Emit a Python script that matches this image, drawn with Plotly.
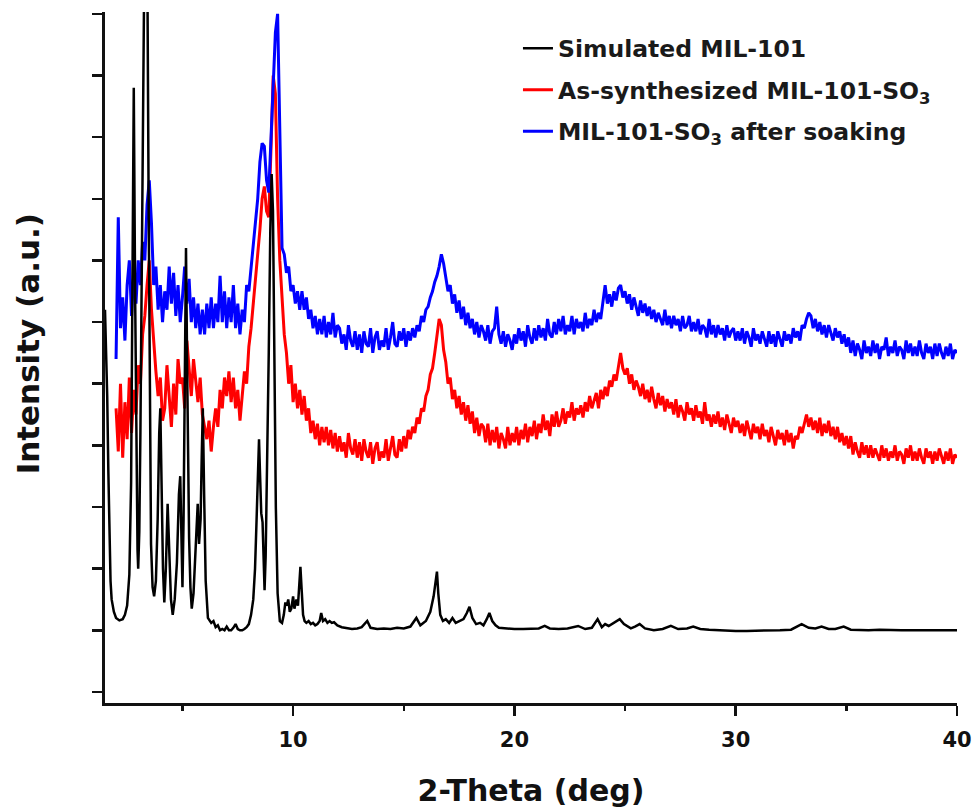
import plotly.graph_objects as go

# ---------------- data ----------------
SERIES_NAMES = [
    "Simulated MIL-101",
    "As-synthesized MIL-101-SO<sub>3</sub>",
    "MIL-101-SO<sub>3</sub> after soaking",
]
X_TITLE = "2-Theta (deg)"
Y_TITLE = "Intensity (a.u.)"
X_TICKS = [10, 20, 30, 40]

# simulated pattern (2-theta, intensity)
SIM_THETA = [
    1.5, 1.6, 1.65, 1.7, 1.75, 1.8, 1.9, 2.0, 2.15, 2.3,
    2.4, 2.5, 2.6, 2.68, 2.74, 2.8, 2.86, 2.92, 2.97, 3.0,
    3.05, 3.1, 3.16, 3.22, 3.27, 3.35, 3.42, 3.47, 3.52, 3.58,
    3.65, 3.72, 3.8, 3.88, 3.95, 4.0, 4.06, 4.12, 4.18, 4.25,
    4.33, 4.4, 4.48, 4.56, 4.65, 4.75, 4.84, 4.9, 4.95, 5.0,
    5.05, 5.1, 5.16, 5.22, 5.3, 5.36, 5.42, 5.5, 5.6, 5.69,
    5.75, 5.82, 5.87, 5.92, 5.98, 6.05, 6.15, 6.3, 6.4, 6.5,
    6.6, 6.7, 6.8, 6.9, 7.0, 7.1, 7.2, 7.3, 7.4, 7.5,
    7.6, 7.7, 7.8, 7.9, 8.0, 8.1, 8.2, 8.28, 8.35, 8.42,
    8.46, 8.5, 8.56, 8.62, 8.67, 8.71, 8.76, 8.82, 8.9, 8.97,
    9.03, 9.09, 9.15, 9.22, 9.3, 9.4, 9.5, 9.58, 9.65, 9.72,
    9.78, 9.85, 9.92, 10.0, 10.06, 10.15, 10.22, 10.28, 10.33, 10.38,
    10.45, 10.52, 10.6, 10.7, 10.8, 10.9, 11.0, 11.1, 11.2, 11.27,
    11.35, 11.45, 11.55, 11.65, 11.75, 11.85, 12.0, 12.2, 12.4, 12.66,
    12.9, 13.1, 13.35, 13.5, 13.8, 14.1, 14.4, 14.7, 15.0, 15.3,
    15.57, 15.75, 16.0, 16.2, 16.35, 16.45, 16.5, 16.56, 16.65, 16.77,
    16.9, 17.05, 17.2, 17.35, 17.5, 17.7, 17.85, 17.97, 18.1, 18.27,
    18.45, 18.6, 18.75, 18.87, 19.0, 19.15, 19.3, 19.6, 20.0, 20.4,
    20.8, 21.1, 21.37, 21.6, 22.0, 22.4, 22.88, 23.2, 23.5, 23.76,
    23.95, 24.1, 24.26, 24.5, 24.76, 24.95, 25.26, 25.45, 25.66, 25.9,
    26.3, 26.7, 27.07, 27.4, 27.8, 28.08, 28.4, 28.8, 29.2, 29.6,
    30.0, 30.5, 31.0, 31.5, 32.0, 32.5, 32.98, 33.3, 33.6, 33.88,
    34.2, 34.5, 34.88, 35.2, 35.6, 36.0, 36.5, 37.0, 37.5, 38.0,
    38.5, 39.0, 39.5, 40.0,
]
SIM_INT = [
    6.2, 4.8, 3.6, 2.4, 1.8, 1.5, 1.3, 1.2, 1.16, 1.18,
    1.25, 1.4, 1.9, 3.4, 6.0, 9.8, 6.5, 3.6, 2.3, 2.0,
    2.6, 4.2, 7.0, 10.0, 11.5, 11.5, 11.3, 8.0, 4.5, 2.4,
    1.7, 1.55, 1.8, 2.8, 4.2, 4.6, 3.3, 2.0, 1.45, 2.0,
    3.05, 2.2, 1.5, 1.25, 1.5, 2.1, 3.2, 3.5, 2.6, 1.7,
    2.8, 5.5, 7.2, 5.0, 2.5, 1.7, 1.35, 1.6, 2.3, 3.05,
    2.4, 2.8, 3.8, 4.6, 3.2, 1.8, 1.2, 1.12, 1.15, 1.05,
    1.08, 1.0, 1.02, 1.0, 1.06, 1.0, 1.0, 1.04, 1.1, 1.02,
    1.0, 1.0, 1.02, 1.05, 1.1, 1.25, 1.5, 2.0, 2.8, 3.9,
    4.1, 3.6, 2.9, 2.75, 2.0, 1.65, 2.2, 3.5, 5.5, 7.5,
    8.4, 7.8, 5.5, 3.0, 1.6, 1.15, 1.12, 1.25, 1.45, 1.4,
    1.5, 1.3, 1.35, 1.55, 1.35, 1.5, 1.4, 1.7, 2.03, 1.7,
    1.25, 1.15, 1.12, 1.15, 1.1, 1.12, 1.08, 1.1, 1.15, 1.28,
    1.15, 1.18, 1.12, 1.15, 1.12, 1.13, 1.08, 1.05, 1.04, 1.02,
    1.03, 1.05, 1.15, 1.04, 1.02, 1.03, 1.02, 1.04, 1.03, 1.06,
    1.2, 1.08, 1.15, 1.3, 1.55, 1.85, 1.95, 1.6, 1.25, 1.15,
    1.18, 1.12, 1.2, 1.12, 1.15, 1.18, 1.28, 1.38, 1.2, 1.1,
    1.12, 1.08, 1.18, 1.28, 1.15, 1.08, 1.04, 1.03, 1.02, 1.02,
    1.02, 1.03, 1.07, 1.03, 1.02, 1.03, 1.07, 1.02, 1.04, 1.18,
    1.05, 1.1, 1.07, 1.12, 1.18, 1.1, 1.03, 1.06, 1.1, 1.03,
    1.0, 1.02, 1.07, 1.02, 1.03, 1.06, 1.02, 1.01, 1.0, 1.0,
    0.99, 0.99, 0.99, 1.0, 1.0, 1.01, 1.1, 1.04, 1.03, 1.06,
    1.02, 1.02, 1.06, 1.01, 1.0, 1.0, 1.01, 1.0, 1.0, 1.0,
    1.0, 1.0, 1.0, 1.0,
]

# measured patterns: 2-theta grid, 0.1 deg steps from 2.0 to 40.0
THETA_LOW = [
    2.0, 2.1, 2.2, 2.3, 2.4, 2.5, 2.6, 2.7, 2.8, 2.9,
    3.0, 3.1, 3.2, 3.3, 3.4, 3.5, 3.6, 3.7, 3.8, 3.9,
    4.0, 4.1, 4.2, 4.3, 4.4, 4.5, 4.6, 4.7, 4.8, 4.9,
    5.0, 5.1, 5.2, 5.3, 5.4, 5.5, 5.6, 5.7, 5.8, 5.9,
    6.0, 6.1, 6.2, 6.3, 6.4, 6.5, 6.6, 6.7, 6.8, 6.9,
    7.0, 7.1, 7.2, 7.3, 7.4, 7.5, 7.6, 7.7, 7.8, 7.9,
    8.0, 8.1, 8.2, 8.3, 8.4, 8.5, 8.6, 8.7, 8.8, 8.9,
    9.0, 9.1, 9.2, 9.3, 9.4, 9.5, 9.6, 9.7, 9.8, 9.9,
    10.0, 10.1, 10.2, 10.3, 10.4, 10.5, 10.6, 10.7, 10.8, 10.9,
    11.0, 11.1, 11.2, 11.3, 11.4, 11.5, 11.6, 11.7, 11.8, 11.9,
    12.0,
]
THETA_HIGH = [
    12.1, 12.2, 12.3, 12.4, 12.5, 12.6, 12.7, 12.8, 12.9, 13.0,
    13.1, 13.2, 13.3, 13.4, 13.5, 13.6, 13.7, 13.8, 13.9, 14.0,
    14.1, 14.2, 14.3, 14.4, 14.5, 14.6, 14.7, 14.8, 14.9, 15.0,
    15.1, 15.2, 15.3, 15.4, 15.5, 15.6, 15.7, 15.8, 15.9, 16.0,
    16.1, 16.2, 16.3, 16.4, 16.5, 16.6, 16.7, 16.8, 16.9, 17.0,
    17.1, 17.2, 17.3, 17.4, 17.5, 17.6, 17.7, 17.8, 17.9, 18.0,
    18.1, 18.2, 18.3, 18.4, 18.5, 18.6, 18.7, 18.8, 18.9, 19.0,
    19.1, 19.2, 19.3, 19.4, 19.5, 19.6, 19.7, 19.8, 19.9, 20.0,
    20.1, 20.2, 20.3, 20.4, 20.5, 20.6, 20.7, 20.8, 20.9, 21.0,
    21.1, 21.2, 21.3, 21.4, 21.5, 21.6, 21.7, 21.8, 21.9, 22.0,
    22.1, 22.2, 22.3, 22.4, 22.5, 22.6, 22.7, 22.8, 22.9, 23.0,
    23.1, 23.2, 23.3, 23.4, 23.5, 23.6, 23.7, 23.8, 23.9, 24.0,
    24.1, 24.2, 24.3, 24.4, 24.5, 24.6, 24.7, 24.8, 24.9, 25.0,
    25.1, 25.2, 25.3, 25.4, 25.5, 25.6, 25.7, 25.8, 25.9, 26.0,
    26.1, 26.2, 26.3, 26.4, 26.5, 26.6, 26.7, 26.8, 26.9, 27.0,
    27.1, 27.2, 27.3, 27.4, 27.5, 27.6, 27.7, 27.8, 27.9, 28.0,
    28.1, 28.2, 28.3, 28.4, 28.5, 28.6, 28.7, 28.8, 28.9, 29.0,
    29.1, 29.2, 29.3, 29.4, 29.5, 29.6, 29.7, 29.8, 29.9, 30.0,
    30.1, 30.2, 30.3, 30.4, 30.5, 30.6, 30.7, 30.8, 30.9, 31.0,
    31.1, 31.2, 31.3, 31.4, 31.5, 31.6, 31.7, 31.8, 31.9, 32.0,
    32.1, 32.2, 32.3, 32.4, 32.5, 32.6, 32.7, 32.8, 32.9, 33.0,
    33.1, 33.2, 33.3, 33.4, 33.5, 33.6, 33.7, 33.8, 33.9, 34.0,
    34.1, 34.2, 34.3, 34.4, 34.5, 34.6, 34.7, 34.8, 34.9, 35.0,
    35.1, 35.2, 35.3, 35.4, 35.5, 35.6, 35.7, 35.8, 35.9, 36.0,
    36.1, 36.2, 36.3, 36.4, 36.5, 36.6, 36.7, 36.8, 36.9, 37.0,
    37.1, 37.2, 37.3, 37.4, 37.5, 37.6, 37.7, 37.8, 37.9, 38.0,
    38.1, 38.2, 38.3, 38.4, 38.5, 38.6, 38.7, 38.8, 38.9, 39.0,
    39.1, 39.2, 39.3, 39.4, 39.5, 39.6, 39.7, 39.8, 39.9, 40.0,
]

RED_LOW = [
    4.6, 3.9, 5.0, 3.8, 4.7, 4.1, 5.1, 4.2, 4.9, 4.5,
    5.3, 5.0, 5.8, 6.1, 6.6, 7.0, 6.2, 5.6, 5.2, 4.8,
    5.1, 4.4, 4.6, 5.3, 4.7, 4.3, 5.0, 4.5, 5.4, 5.0,
    5.1, 4.6, 5.7, 5.2, 4.8, 5.4, 5.0, 4.7, 5.1, 4.5,
    4.3, 4.1, 4.4, 3.9, 4.3, 4.6, 4.3, 4.9, 4.6, 5.1,
    4.8, 5.2, 4.7, 5.1, 4.6, 4.9, 4.4, 4.8, 5.2, 5.0,
    5.6, 5.9, 6.3, 6.6, 7.1, 7.5, 8.0, 8.2, 7.8, 7.7,
    8.8, 10.0, 9.7, 8.0, 7.0, 6.3, 5.8, 5.5, 5.0, 5.3,
    4.7, 5.0, 4.6, 4.9, 4.5, 4.8, 4.4, 4.6, 4.2, 4.4,
    4.1, 4.35, 4.0, 4.3, 4.05, 4.3, 4.0, 4.25, 3.95, 4.2,
    3.9,
]
RED_HIGH = [
    4.15, 3.9, 4.05, 3.8, 4.2, 3.95, 3.85, 4.1, 3.8, 4.05,
    3.75, 4.1, 3.9, 3.8, 4.05, 3.7, 3.95, 4.05, 3.75, 3.9,
    3.8, 4.1, 3.75, 3.95, 4.15, 3.85, 3.8, 4.1, 3.9, 4.15,
    3.95, 4.25, 4.1, 4.3, 4.2, 4.45, 4.35, 4.6, 4.55, 4.8,
    4.9, 5.15, 5.25, 5.5, 5.8, 6.05, 5.95, 5.55, 5.35, 5.0,
    5.1, 4.75, 4.9, 4.6, 4.8, 4.5, 4.7, 4.4, 4.65, 4.35,
    4.55, 4.2, 4.45, 4.15, 4.35, 4.3, 4.05, 4.35, 4.0, 4.25,
    4.05, 4.3, 3.95, 4.2, 4.1, 3.95, 4.3, 4.0, 4.2, 4.05,
    4.3, 4.0, 4.25, 4.1, 4.35, 4.05, 4.3, 4.15, 4.4, 4.1,
    4.35, 4.2, 4.5, 4.25, 4.4, 4.15, 4.5, 4.3, 4.55, 4.3,
    4.4, 4.6, 4.35, 4.55, 4.45, 4.7, 4.4, 4.6, 4.5, 4.65,
    4.45, 4.7, 4.55, 4.8, 4.6, 4.75, 4.85, 4.6, 4.9, 4.75,
    4.95, 4.8, 5.05, 4.95, 5.15, 5.05, 5.3, 5.5, 5.25, 5.15,
    5.25, 5.0, 5.15, 4.9, 5.05, 4.95, 4.8, 5.0, 4.75, 4.9,
    4.7, 4.95, 4.75, 4.6, 4.85, 4.65, 4.8, 4.55, 4.75, 4.6,
    4.7, 4.5, 4.75, 4.45, 4.65, 4.55, 4.4, 4.7, 4.5, 4.6,
    4.4, 4.65, 4.45, 4.55, 4.35, 4.7, 4.4, 4.5, 4.3, 4.5,
    4.35, 4.55, 4.3, 4.45, 4.25, 4.5, 4.35, 4.2, 4.45, 4.3,
    4.4, 4.2, 4.35, 4.15, 4.4, 4.25, 4.1, 4.35, 4.2, 4.3,
    4.1, 4.35, 4.15, 4.25, 4.05, 4.3, 4.15, 4.0, 4.25, 4.1,
    4.2, 4.0, 4.25, 4.05, 4.2, 3.95, 4.15, 4.1, 4.3, 4.2,
    4.35, 4.5, 4.3, 4.45, 4.25, 4.4, 4.2, 4.45, 4.15, 4.35,
    4.2, 4.4, 4.15, 4.3, 4.1, 4.3, 4.05, 4.2, 4.0, 4.15,
    3.95, 4.15, 3.85, 4.05, 3.9, 3.8, 4.05, 3.85, 4.0, 3.8,
    4.0, 3.8, 3.95, 3.85, 3.75, 4.0, 3.8, 3.95, 3.75, 3.9,
    3.8, 4.0, 3.75, 3.9, 3.85, 3.7, 3.95, 3.8, 4.0, 3.75,
    3.9, 3.75, 3.95, 3.8, 3.7, 3.95, 3.8, 3.9, 3.7, 3.9,
    3.75, 3.95, 3.8, 3.7, 3.9, 3.75, 3.95, 3.7, 3.85, 3.8,
]

BLUE_LOW = [
    5.4, 7.7, 5.9, 6.4, 5.7, 6.6, 7.0, 6.1, 6.8, 6.3,
    7.0, 6.6, 7.3, 7.0, 7.9, 8.3, 7.6, 6.6, 6.9, 6.2,
    6.6, 6.0, 6.5, 6.2, 6.9, 6.3, 6.8, 6.1, 6.6, 6.0,
    6.4, 6.9, 6.3, 6.7, 6.0, 6.4, 5.9, 6.3, 5.8, 6.2,
    5.8, 6.3, 5.9, 6.4, 5.9, 6.3, 6.0, 6.75, 6.0, 6.5,
    5.9, 6.4, 6.0, 6.6, 5.9, 6.3, 5.8, 6.2, 6.0, 6.6,
    6.5, 6.9, 7.2, 7.6, 8.0, 8.6, 8.9, 8.85, 8.3, 8.1,
    9.0, 10.0, 10.7, 11.0, 8.8, 7.2, 7.1, 6.8, 6.9, 6.5,
    6.6, 6.3, 6.5, 6.2, 6.5, 6.2, 6.4, 6.05, 6.2, 5.9,
    6.1, 5.8, 6.05, 5.8, 6.1, 5.75, 6.0, 5.8, 6.15, 5.75,
    5.95,
]
BLUE_HIGH = [
    5.9, 5.65, 5.8, 5.55, 5.95, 5.7, 5.6, 5.85, 5.55, 5.8,
    5.5, 5.85, 5.65, 5.6, 5.9, 5.5, 5.75, 5.85, 5.55, 5.7,
    5.6, 5.9, 5.55, 5.75, 6.0, 5.65, 5.6, 5.85, 5.7, 5.9,
    5.6, 5.85, 5.7, 5.9, 5.75, 5.95, 5.85, 6.1, 6.0, 6.2,
    6.25, 6.4, 6.5, 6.65, 6.75, 6.9, 7.1, 6.95, 6.75, 6.5,
    6.6, 6.3, 6.45, 6.15, 6.35, 6.05, 6.25, 5.95, 6.15, 5.9,
    6.05, 5.8, 6.0, 5.75, 5.95, 5.85, 5.7, 5.95, 5.65, 5.85,
    5.9, 6.25, 5.8, 5.65, 5.85, 5.6, 5.8, 5.7, 5.55, 5.8,
    5.65, 5.9, 5.7, 5.85, 5.6, 5.95, 5.75, 5.65, 5.9, 5.7,
    5.95, 5.75, 5.9, 5.7, 6.05, 5.8, 5.75, 6.0, 5.8, 6.05,
    5.85, 6.1, 5.8, 5.95, 5.85, 6.1, 5.8, 6.05, 5.9, 6.0,
    5.85, 6.15, 5.9, 6.05, 5.95, 6.2, 6.0, 6.15, 6.05, 6.3,
    6.6, 6.3, 6.45, 6.25, 6.5, 6.35, 6.55, 6.6, 6.4, 6.5,
    6.3, 6.45, 6.2, 6.4, 6.25, 6.1, 6.35, 6.15, 6.3, 6.1,
    6.25, 6.05, 6.2, 6.0, 6.15, 6.05, 5.95, 6.2, 5.95, 6.1,
    5.9, 6.1, 5.95, 6.05, 5.85, 6.1, 5.9, 5.95, 6.1, 5.85,
    6.0, 5.85, 6.05, 5.8, 5.95, 5.9, 5.75, 6.05, 5.8, 5.95,
    5.75, 5.95, 5.8, 5.9, 5.7, 5.95, 5.75, 5.85, 5.9, 5.7,
    5.85, 5.7, 5.9, 5.65, 5.85, 5.75, 5.6, 5.9, 5.7, 5.8,
    5.65, 5.85, 5.7, 5.6, 5.85, 5.65, 5.8, 5.6, 5.85, 5.7,
    5.6, 5.85, 5.7, 5.8, 5.65, 5.9, 5.75, 5.85, 5.7, 5.95,
    5.9, 6.05, 6.15, 6.1, 5.9, 6.05, 5.85, 6.0, 5.8, 5.95,
    5.75, 5.95, 5.8, 5.7, 5.9, 5.75, 5.85, 5.65, 5.8, 5.6,
    5.75, 5.5, 5.7, 5.45, 5.65, 5.55, 5.4, 5.7, 5.5, 5.6,
    5.45, 5.7, 5.5, 5.65, 5.4, 5.6, 5.55, 5.75, 5.45, 5.6,
    5.5, 5.7, 5.45, 5.6, 5.55, 5.4, 5.7, 5.5, 5.65, 5.45,
    5.6, 5.45, 5.7, 5.5, 5.4, 5.65, 5.5, 5.6, 5.4, 5.65,
    5.45, 5.65, 5.5, 5.4, 5.6, 5.45, 5.65, 5.4, 5.55, 5.5,
]

assert len(SIM_THETA) == len(SIM_INT), (len(SIM_THETA), len(SIM_INT))
assert len(THETA_LOW) == len(RED_LOW) == len(BLUE_LOW)
assert len(THETA_HIGH) == len(RED_HIGH) == len(BLUE_HIGH), (
    len(THETA_HIGH), len(RED_HIGH), len(BLUE_HIGH))

theta = THETA_LOW + THETA_HIGH
red = RED_LOW + RED_HIGH
blue = BLUE_LOW + BLUE_HIGH

# ---------------- figure ----------------
FONT = "DejaVu Sans, Verdana, sans-serif"
INK = "#111111"

fig = go.Figure()
fig.add_trace(go.Scatter(
    x=theta, y=red, mode="lines", name=SERIES_NAMES[1],
    line=dict(color="#ff0000", width=3), legendgroup="b", legendrank=2,
))
fig.add_trace(go.Scatter(
    x=theta, y=blue, mode="lines", name=SERIES_NAMES[2],
    line=dict(color="#0000ff", width=3), legendgroup="c", legendrank=3,
))
fig.add_trace(go.Scatter(
    x=SIM_THETA, y=SIM_INT, mode="lines", name=SERIES_NAMES[0],
    line=dict(color="#000000", width=2.5), legendgroup="a", legendrank=1,
))

fig.update_layout(
    width=972, height=812,
    margin=dict(l=105, r=15, t=12, b=109),
    paper_bgcolor="white", plot_bgcolor="white",
    font=dict(family=FONT, color=INK),
    showlegend=True,
    legend=dict(
        x=0.4847, y=0.9792, xanchor="left", yanchor="top",
        bgcolor="rgba(0,0,0,0)", borderwidth=0,
        font=dict(family=FONT, size=23.5, color="#1a1a1a", weight="bold"),
        tracegroupgap=8, traceorder="grouped",
    ),
    xaxis=dict(
        range=[1.5, 40], showgrid=False, zeroline=False, automargin=False,
        showline=True, linecolor=INK, linewidth=3, mirror=False,
        ticks="outside", ticklen=10, tickwidth=2.5, tickcolor=INK,
        tickmode="array", tickvals=X_TICKS,
        ticklabelstandoff=6, ticklabeloverflow="allow",
        tickfont=dict(family=FONT, size=21, color=INK, weight="bold"),
        minor=dict(tickmode="linear", tick0=0, dtick=5, ticks="outside",
                   ticklen=5, tickwidth=2.5, tickcolor=INK),
        title=dict(text=X_TITLE, standoff=29,
                   font=dict(family=FONT, size=30, color=INK, weight="bold")),
    ),
    yaxis=dict(
        range=[-0.18, 11.03], showgrid=False, zeroline=False, automargin=False,
        showline=True, linecolor=INK, linewidth=3, mirror=False,
        ticks="outside", ticklen=10, tickwidth=2.5, tickcolor=INK,
        tick0=0, dtick=1, showticklabels=False,
    ),
    annotations=[dict(
        text=Y_TITLE, textangle=-90, showarrow=False,
        xref="paper", yref="paper", x=-0.090, y=0.5195,
        xanchor="center", yanchor="middle",
        font=dict(family=FONT, size=31, color=INK, weight="bold"),
    )],
)

# drop the browser's default 8px body margin so the 972x812 figure fills the page
fig.write_html(
    "out.html",
    config={"staticPlot": True, "displayModeBar": False},
    post_script=(
        "document.body.style.margin='0px';"
        "document.body.style.overflow='hidden';"
    ),
)
